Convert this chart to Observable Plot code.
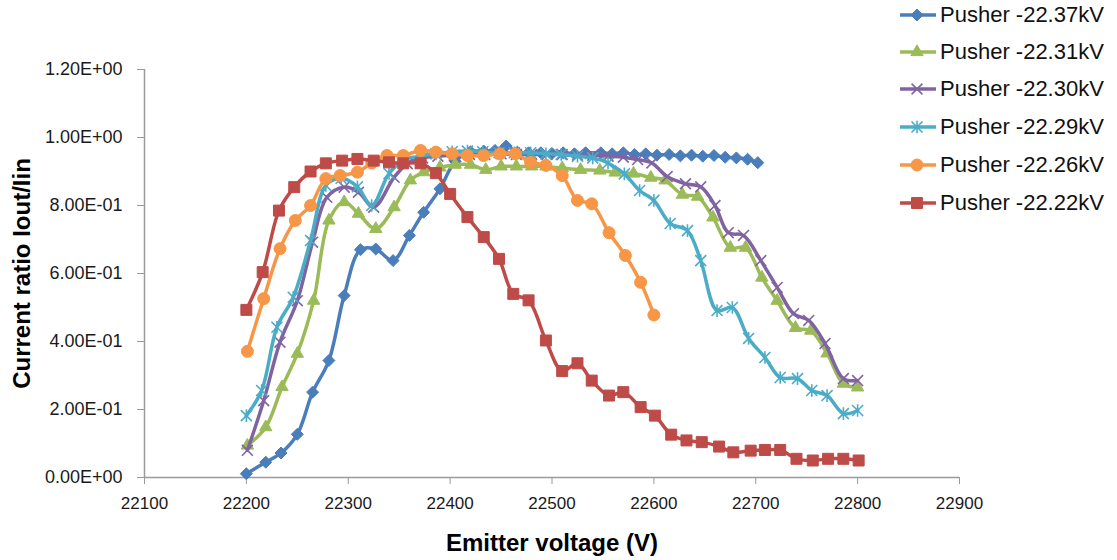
<!DOCTYPE html>
<html><head><meta charset="utf-8">
<script src="https://cdn.jsdelivr.net/npm/d3@7"></script>
<script src="https://cdn.jsdelivr.net/npm/@observablehq/plot@0.6"></script>
<style>
body{margin:0;background:#fff;font-family:"Liberation Sans",Arial,sans-serif;}
#wrap{position:relative;width:1117px;height:560px;overflow:hidden;}
#legend{position:absolute;left:898px;top:0;width:219px;height:230px;}
.row{position:absolute;left:0;height:38px;display:flex;align-items:center;white-space:nowrap;font-size:22px;color:#111;}
.row svg{margin-right:2px;}
</style></head>
<body><div id="wrap"><div id="chart"></div><div id="legend"></div></div>
<script>
// ---- data ----
const seriesNames = ["Pusher -22.37kV","Pusher -22.31kV","Pusher -22.30kV","Pusher -22.29kV","Pusher -22.26kV","Pusher -22.22kV"];
const seriesColors = ["#4A7EBB","#9BBB59","#8064A2","#4BACC6","#F79646","#BE4B48"];
const xTicks = [22100,22200,22300,22400,22500,22600,22700,22800,22900];
const yTicks = [0,0.2,0.4,0.6,0.8,1.0,1.2];

const pusher2237 = [[22200,0.011],[22219,0.045],[22234,0.072],[22250,0.127],[22265,0.251],[22281,0.344],[22296,0.535],[22312,0.670],[22327,0.672],[22344,0.638],[22360,0.712],[22374,0.780],[22390,0.849],[22405,0.930],[22420,0.958],[22433,0.960],[22444,0.962],[22455,0.975],[22466,0.957],[22477,0.955],[22489,0.955],[22500,0.953],[22511,0.955],[22522,0.952],[22533,0.955],[22548,0.955],[22559,0.952],[22570,0.955],[22581,0.950],[22592,0.952],[22603,0.948],[22615,0.950],[22626,0.946],[22637,0.948],[22648,0.945],[22659,0.947],[22670,0.942],[22681,0.940],[22692,0.936],[22702,0.926]];
const pusher2231 = [[22201,0.094],[22219,0.148],[22235,0.266],[22250,0.364],[22266,0.520],[22281,0.756],[22296,0.810],[22310,0.776],[22327,0.731],[22345,0.795],[22361,0.874],[22374,0.898],[22390,0.912],[22405,0.920],[22420,0.920],[22435,0.905],[22450,0.915],[22465,0.915],[22480,0.915],[22494,0.915],[22510,0.910],[22528,0.905],[22547,0.903],[22562,0.897],[22580,0.894],[22597,0.882],[22611,0.874],[22628,0.832],[22643,0.826],[22658,0.765],[22675,0.676],[22690,0.676],[22706,0.588],[22721,0.520],[22739,0.440],[22754,0.432],[22770,0.365],[22786,0.276],[22800,0.265]];
const pusher2230 = [[22201,0.080],[22217,0.226],[22233,0.398],[22250,0.520],[22265,0.692],[22279,0.824],[22296,0.854],[22310,0.839],[22325,0.795],[22345,0.883],[22358,0.923],[22373,0.940],[22388,0.945],[22404,0.948],[22419,0.950],[22434,0.950],[22450,0.952],[22465,0.950],[22480,0.950],[22495,0.950],[22510,0.950],[22525,0.948],[22540,0.948],[22555,0.945],[22570,0.942],[22584,0.935],[22598,0.925],[22613,0.885],[22631,0.864],[22646,0.855],[22660,0.800],[22673,0.720],[22688,0.712],[22705,0.638],[22721,0.559],[22737,0.482],[22752,0.462],[22768,0.394],[22786,0.291],[22800,0.285]];
const pusher2229 = [[22200,0.182],[22215,0.256],[22230,0.442],[22246,0.530],[22263,0.697],[22278,0.859],[22293,0.880],[22309,0.855],[22323,0.800],[22340,0.894],[22355,0.935],[22371,0.945],[22386,0.952],[22402,0.958],[22417,0.960],[22432,0.958],[22448,0.955],[22463,0.955],[22479,0.955],[22494,0.952],[22509,0.950],[22525,0.945],[22540,0.940],[22555,0.925],[22571,0.893],[22586,0.844],[22600,0.815],[22616,0.747],[22633,0.726],[22646,0.638],[22662,0.491],[22677,0.500],[22693,0.409],[22709,0.353],[22724,0.294],[22741,0.291],[22755,0.256],[22770,0.241],[22786,0.188],[22800,0.197]];
const pusher2226 = [[22201,0.371],[22217,0.526],[22233,0.673],[22248,0.756],[22263,0.800],[22278,0.879],[22292,0.888],[22309,0.898],[22323,0.925],[22338,0.947],[22354,0.947],[22371,0.962],[22386,0.957],[22402,0.952],[22417,0.947],[22433,0.947],[22449,0.952],[22464,0.952],[22479,0.927],[22494,0.918],[22510,0.888],[22525,0.815],[22539,0.805],[22556,0.720],[22572,0.653],[22587,0.574],[22600,0.478]];
const pusher2222 = [[22200,0.493],[22216,0.604],[22232,0.785],[22247,0.854],[22263,0.900],[22278,0.924],[22294,0.932],[22309,0.937],[22325,0.932],[22340,0.927],[22354,0.924],[22371,0.924],[22386,0.895],[22400,0.834],[22417,0.766],[22433,0.707],[22448,0.643],[22462,0.540],[22477,0.521],[22494,0.403],[22510,0.313],[22525,0.336],[22539,0.285],[22556,0.241],[22570,0.251],[22587,0.207],[22601,0.182],[22617,0.126],[22632,0.109],[22647,0.104],[22664,0.091],[22678,0.074],[22695,0.079],[22709,0.081],[22724,0.081],[22740,0.055],[22756,0.050],[22771,0.055],[22786,0.055],[22801,0.050]];

const seriesData = [pusher2237,pusher2231,pusher2230,pusher2229,pusher2226,pusher2222];

// ---- marker styles ----
const excelStar = {draw(ctx, size){const r=Math.sqrt(size)*0.62;ctx.moveTo(-r,-r);ctx.lineTo(r,r);ctx.moveTo(-r,r);ctx.lineTo(r,-r);ctx.moveTo(0,-r*1.15);ctx.lineTo(0,r*1.15);}};
const markers = [
  {symbol:d3.symbolDiamond2, r:5.4, filled:true},
  {symbol:d3.symbolTriangle, r:4.6, filled:true},
  {symbol:d3.symbolTimes, r:5, filled:false},
  {symbol:excelStar, r:5, filled:false},
  {symbol:d3.symbolCircle, r:6, filled:true},
  {symbol:d3.symbolSquare, r:6.2, filled:true}
];

const fmtE = v => {const [m,e]=v.toExponential(2).split("e");const s=e[0]==="-"?"-":"+";return m+"E"+s+String(Math.abs(+e)).padStart(2,"0");};
const axisGray = "#9a9a9a";

const marks = [];
marks.push(Plot.axisY({ticks:yTicks, tickSize:7, tickPadding:15, tickFormat:fmtE, stroke:axisGray, fill:"#1a1a1a", fontSize:18, label:null}));
marks.push(Plot.axisX({ticks:xTicks, tickSize:7, tickPadding:12, tickFormat:d=>String(d), stroke:axisGray, fill:"#1a1a1a", fontSize:17, label:null}));
marks.push(Plot.ruleX([22100], {stroke:axisGray, strokeWidth:1.5}));
marks.push(Plot.ruleY([0], {stroke:axisGray, strokeWidth:1.5}));
seriesData.forEach((data,i)=>{
  const c = seriesColors[i], m = markers[i];
  marks.push(Plot.line(data, {x:d=>d[0], y:d=>d[1], stroke:c, strokeWidth:3.5, curve:"catmull-rom"}));
  marks.push(Plot.dot(data, {x:d=>d[0], y:d=>d[1], symbol:m.symbol, r:m.r,
    fill: m.filled ? c : "none", stroke:c, strokeWidth: m.filled ? 1 : 1.6}));
});
marks.push(Plot.text(["Current ratio Iout/Iin"], {frameAnchor:"left", dx:-122, rotate:-90, textAnchor:"middle", lineAnchor:"middle", text:d=>d, fontWeight:"bold", fontSize:24, fill:"#000"}));
marks.push(Plot.text(["Emitter voltage (V)"], {frameAnchor:"bottom", dy:66, textAnchor:"middle", lineAnchor:"middle", text:d=>d, fontWeight:"bold", fontSize:24, fill:"#000"}));

const chart = Plot.plot({
  width:1117, height:560,
  marginLeft:144, marginRight:158, marginTop:69, marginBottom:83,
  x:{domain:[22100,22900]},
  y:{domain:[0,1.2]},
  style:{fontFamily:"Liberation Sans, Arial, sans-serif", fontSize:"17px", color:"#1a1a1a", background:"#fff"},
  marks
});
document.getElementById("chart").appendChild(chart);

// ---- legend ----
const rowCenters = [15,52,89,127,165,203];
const legend = d3.select("#legend");
seriesNames.forEach((name,i)=>{
  const row = legend.append("div").attr("class","row").style("top",(rowCenters[i]-19)+"px");
  const svg = row.append("svg").attr("width",40).attr("height",38);
  svg.append("line").attr("x1",2).attr("x2",38).attr("y1",19).attr("y2",19).attr("stroke",seriesColors[i]).attr("stroke-width",3.5);
  const m = markers[i];
  svg.append("path").attr("transform","translate(19,19)")
    .attr("d", d3.symbol(m.symbol, Math.PI*m.r*m.r)())
    .attr("fill", m.filled ? seriesColors[i] : "none")
    .attr("stroke", seriesColors[i]).attr("stroke-width", m.filled ? 1 : 1.6);
  row.append("span").text(name);
});
</script>
</body></html>
